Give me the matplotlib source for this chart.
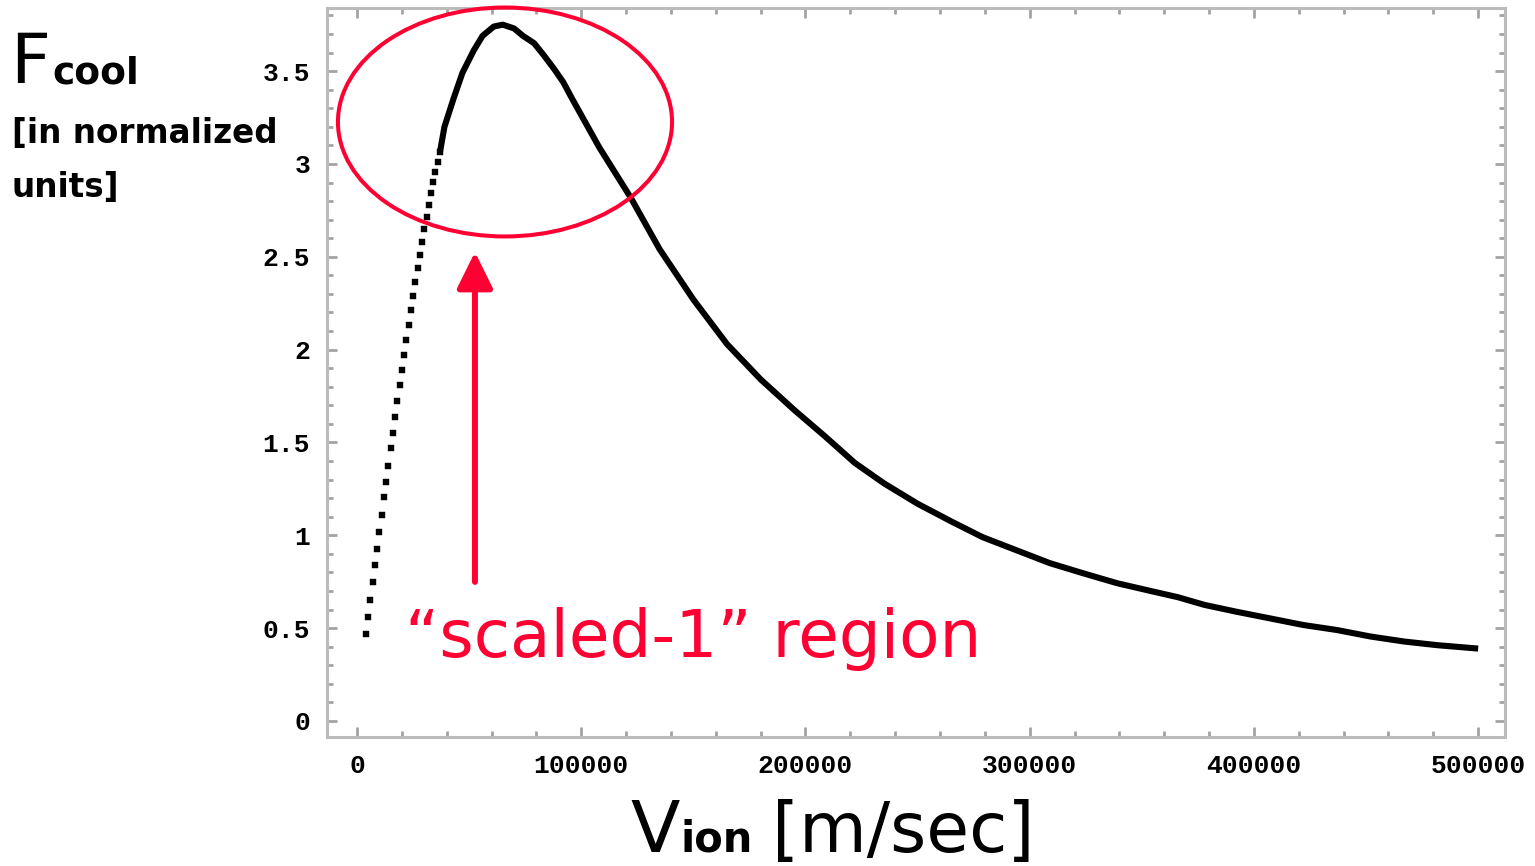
import numpy as np
import matplotlib.pyplot as plt
from matplotlib.patches import Ellipse
from matplotlib.ticker import MultipleLocator

# steep rising part: one sample every 1000 m/s, drawn as separate dots
v_dots = [4000, 5000, 6000, 7000, 8000, 9000, 10000, 11000, 12000, 13000,
          14000, 15000, 16000, 17000, 18000, 19000, 20000, 21000, 22000, 23000,
          24000, 25000, 26000, 27000, 28000, 29000, 30000, 31000, 32000, 33000,
          34000, 35000, 36000, 37000]
f_dots = [0.468, 0.562, 0.652, 0.750, 0.840, 0.925, 1.019, 1.109, 1.205, 1.289,
          1.373, 1.468, 1.553, 1.639, 1.725, 1.809, 1.890, 1.971, 2.052, 2.132,
          2.213, 2.289, 2.364, 2.439, 2.509, 2.579, 2.649, 2.714, 2.779, 2.843,
          2.903, 2.956, 3.010, 3.064]

# rest of the curve (dots merge into a solid band)
v_line = [37000, 39000, 43000, 47000, 52000, 56000, 61000, 65000, 70000, 74000,
          79000, 83000, 88000, 92000, 96000, 108000, 122000, 135000, 150000, 165000,
          180000, 195000, 209000, 222000, 235000, 250000, 265000, 279000, 294000, 309000,
          324000, 339000, 354000, 366000, 378000, 392000, 407000, 422000, 437000, 452000,
          467000, 482000, 500000]
f_line = [3.064, 3.20, 3.35, 3.49, 3.61, 3.69, 3.74, 3.75, 3.73, 3.69,
          3.65, 3.59, 3.51, 3.44, 3.35, 3.09, 2.82, 2.54, 2.27, 2.03,
          1.84, 1.675, 1.53, 1.39, 1.28, 1.17, 1.075, 0.99, 0.92, 0.85,
          0.795, 0.742, 0.70, 0.667, 0.625, 0.589, 0.553, 0.517, 0.49, 0.455,
          0.428, 0.408, 0.39]

x_ticks = [0, 100000, 200000, 300000, 400000, 500000]
x_labels = ["0", "100000", "200000", "300000", "400000", "500000"]
y_ticks = [0, 0.5, 1, 1.5, 2, 2.5, 3, 3.5]
y_labels = ["0", "0.5", "1", "1.5", "2", "2.5", "3", "3.5"]

red = "#ff0033"
frame = "#bbbbbb"
tick_col = "#a3a3a3"

fig = plt.figure(figsize=(15.35, 8.66), dpi=100)
ax = fig.add_axes([0.2130, 0.1490, 0.7675, 0.8418])

ax.plot(v_line, f_line, color="black", lw=4.4, solid_capstyle="butt",
        solid_joinstyle="round", zorder=3)
ax.plot(v_dots, f_dots, ls="none", marker="s", ms=3.8, mfc="black", mec="black",
        mew=0.3, zorder=3)

ax.set_xlim(-13400, 512000)
ax.set_ylim(-0.086, 3.84)

ax.set_xticks(x_ticks)
ax.set_xticklabels(x_labels)
ax.set_yticks(y_ticks)
ax.set_yticklabels(y_labels)
ax.xaxis.set_minor_locator(MultipleLocator(20000))
ax.yaxis.set_minor_locator(MultipleLocator(0.1))

for s in ax.spines.values():
    s.set_color(frame)
    s.set_linewidth(2.2)
ax.tick_params(which="both", direction="in", top=True, right=True, color=tick_col, width=2.0)
ax.tick_params(which="major", length=7, pad=12)
ax.tick_params(which="minor", length=4)
for lab in ax.get_xticklabels() + ax.get_yticklabels():
    lab.set_family("Liberation Mono")
    lab.set_fontweight("bold")
    lab.set_fontsize(19)

# highlighted region
ax.add_patch(Ellipse((66000, 3.226), 149000, 1.233, fill=False, ec=red, lw=2.9,
                     clip_on=False, zorder=4))
ax.annotate("", xy=(52600, 2.526), xytext=(52600, 0.749),
            arrowprops=dict(arrowstyle="-|>,head_length=0.85,head_width=0.42",
                            color=red, lw=4.3, mutation_scale=26,
                            shrinkA=0, shrinkB=0))

W, H = 1535.0, 866.0
def fx(px):
    return px / W
def fy(py):
    return 1 - py / H

fig.text(fx(405), fy(657), "\u201cscaled-1\u201d region", color=red, fontsize=47.5,
         family="DejaVu Sans", va="baseline", ha="left")

fig.text(fx(10), fy(83), "F", fontsize=50, va="baseline", ha="left")
fig.text(fx(52), fy(83), "cool", fontsize=27, fontweight="bold", va="baseline", ha="left")
fig.text(fx(12), fy(143), "[in normalized", fontsize=23.5, fontweight="bold", va="baseline", ha="left")
fig.text(fx(12), fy(197), "units]", fontsize=23.5, fontweight="bold", va="baseline", ha="left")

fig.text(fx(630), fy(852), "V", fontsize=52, va="baseline", ha="left")
fig.text(fx(680), fy(852), "ion", fontsize=30, fontweight="bold", va="baseline", ha="left")
fig.text(fx(772), fy(852), "[m/sec]", fontsize=50, va="baseline", ha="left")

fig.savefig("out.png", dpi=100, facecolor="white")
